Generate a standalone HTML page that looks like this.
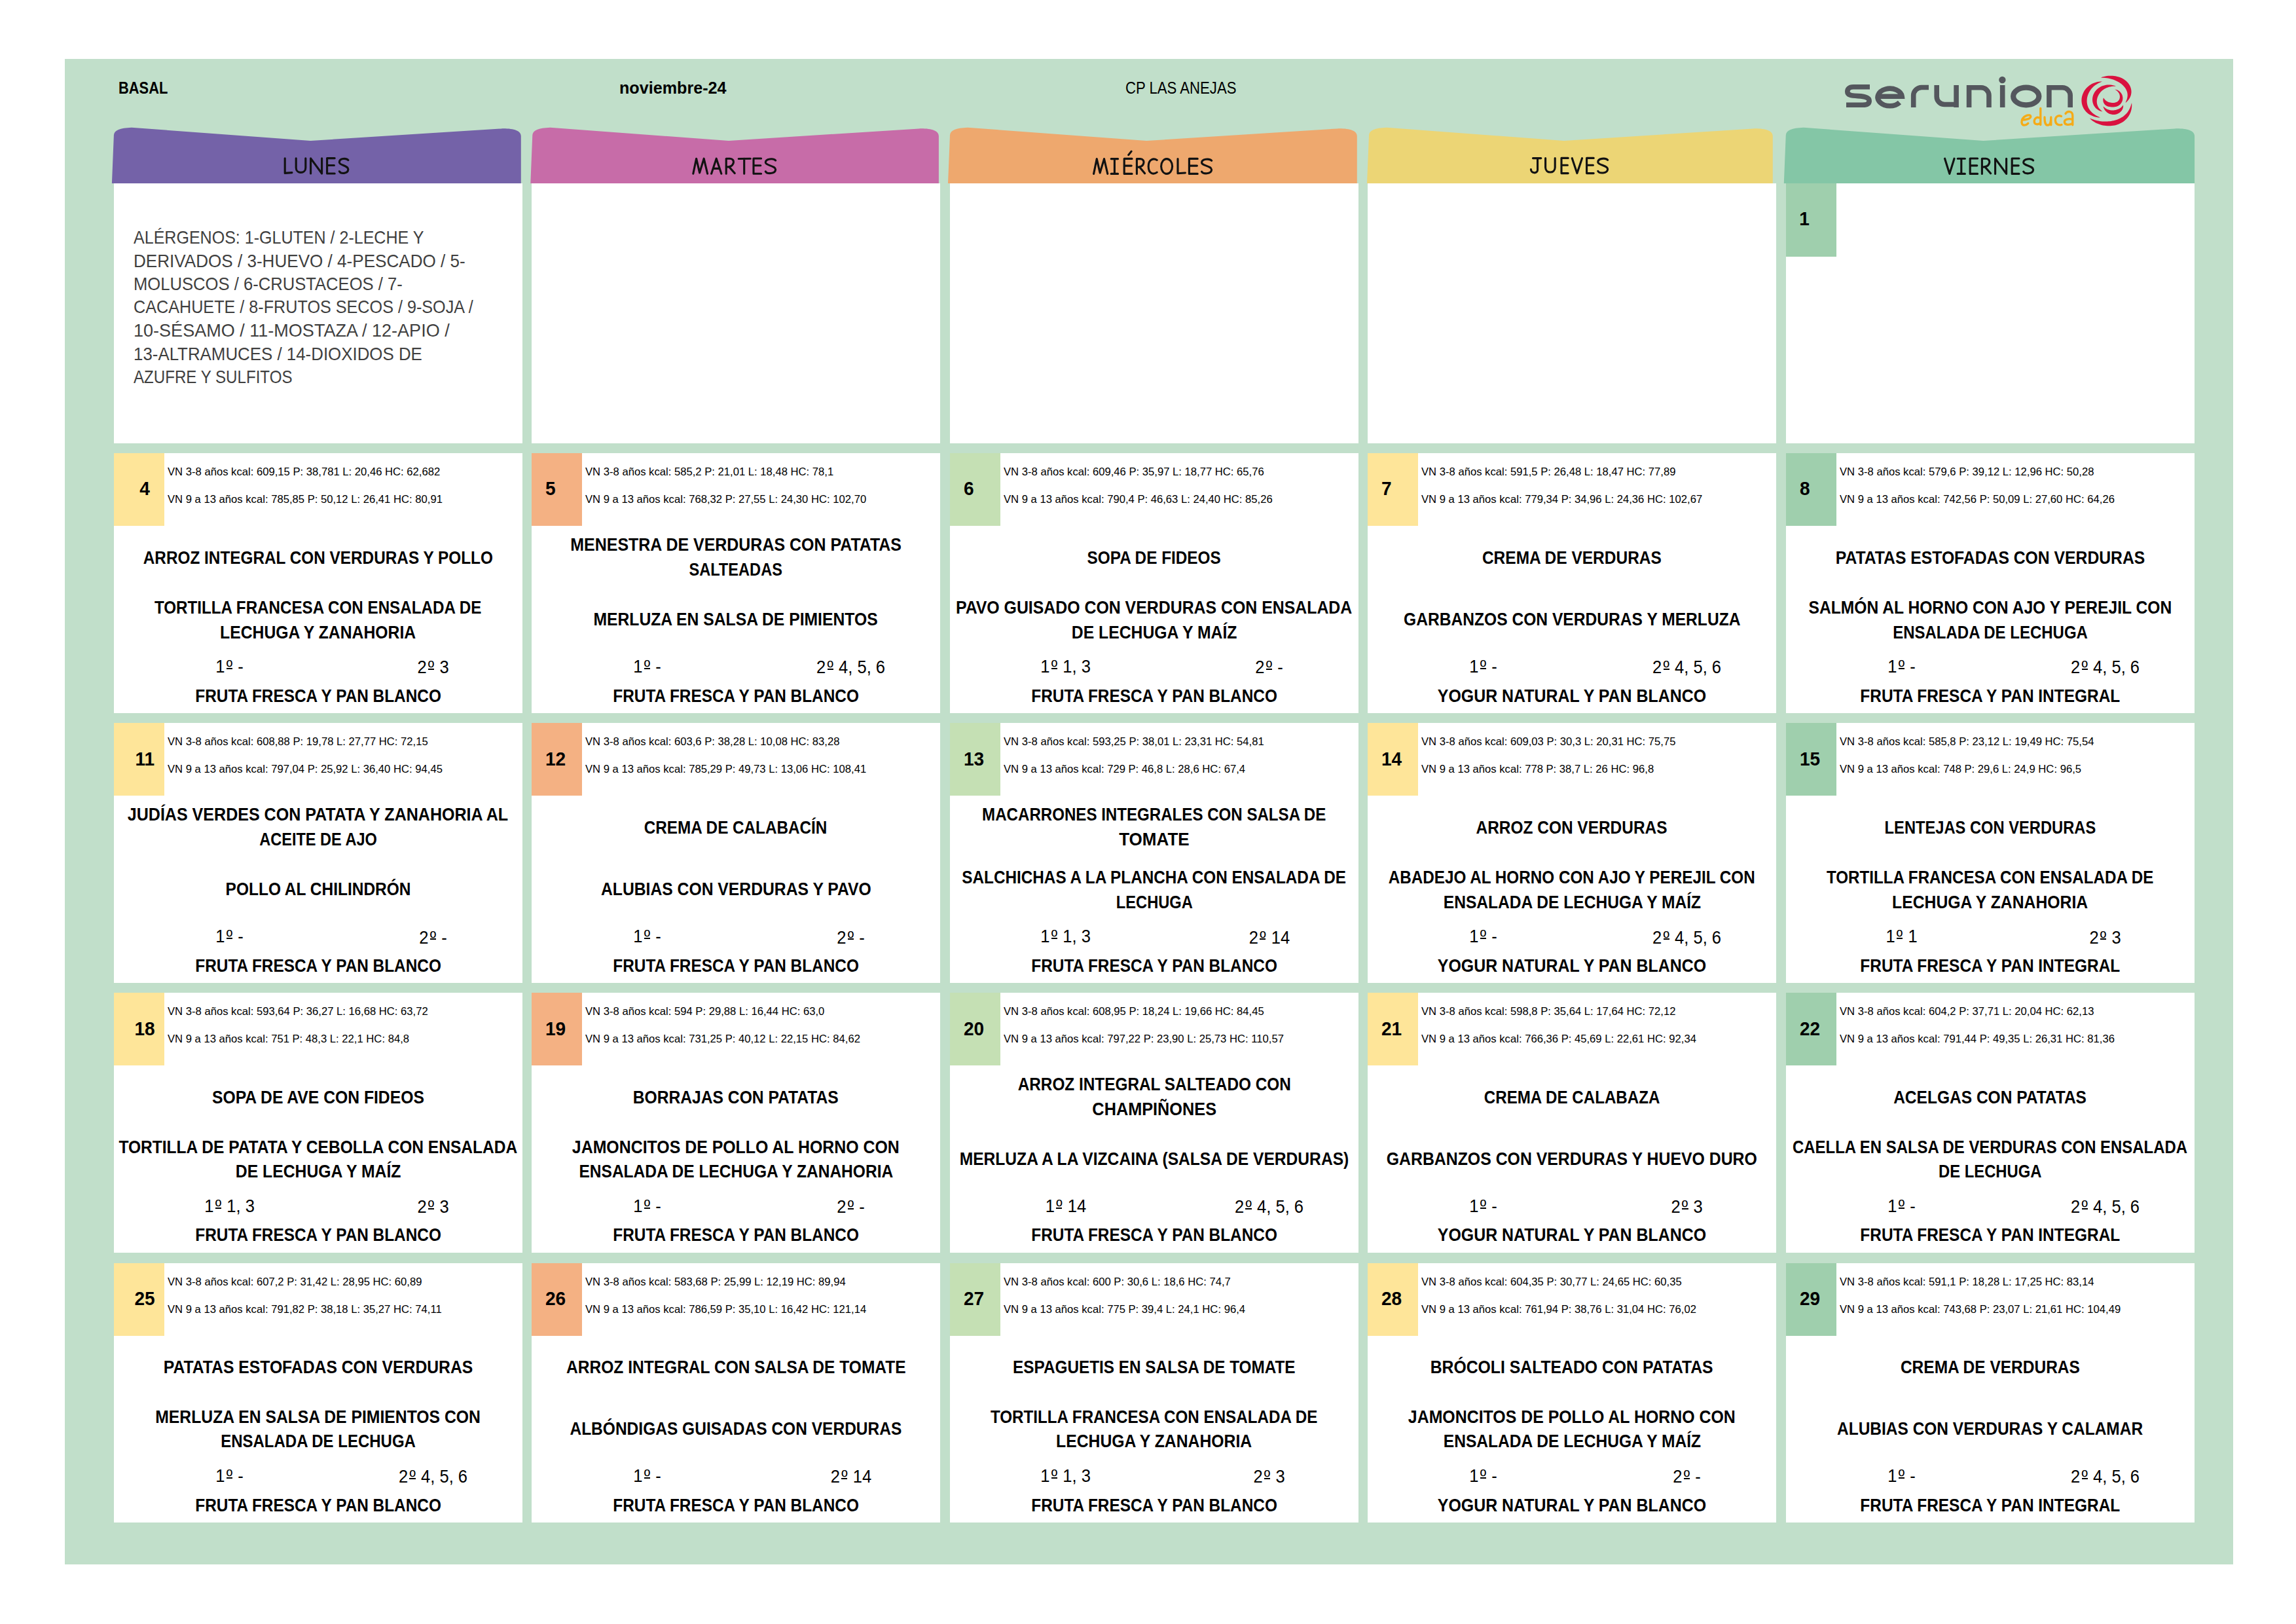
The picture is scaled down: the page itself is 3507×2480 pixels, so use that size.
<!DOCTYPE html><html><head><meta charset="utf-8"><style>
html,body{margin:0;padding:0;background:#fff;}
body{width:3507px;height:2480px;position:relative;overflow:hidden;font-family:"Liberation Sans",sans-serif;}
.t{position:absolute;white-space:nowrap;transform-origin:0 0;}
.c{text-align:center;transform-origin:50% 0;}
.r{position:absolute;}
</style></head><body>
<div class="r" style="left:99.00px;top:90.00px;width:3311.50px;height:2298.70px;background:#c1dfca;"></div>
<svg class="r" style="left:0;top:0" width="3507" height="300" viewBox="0 0 3507 300"><path d="M170.9,280 L173.9,206 C174.9,199 182.9,195.5 200.9,194.8 L474.34999999999997,215 L765.8,196.4 C783.8,196 795.8,199 795.8,208 L795.8,280 Z" fill="#7462a8"/><path d="M810.3,280 L813.3,206 C814.3,199 822.3,195.5 840.3,194.8 L1113.1,215 L1403.9,196.4 C1421.9,196 1433.9,199 1433.9,208 L1433.9,280 Z" fill="#c76ca8"/><path d="M1448.0,280 L1451.0,206 C1452.0,199 1460.0,195.5 1478.0,194.8 L1751.4,215 L2042.8000000000002,196.4 C2060.8,196 2072.8,199 2072.8,208 L2072.8,280 Z" fill="#eea86e"/><path d="M2088.0,280 L2091.0,206 C2092.0,199 2100.0,195.5 2118.0,194.8 L2388.9,215 L2677.8,196.4 C2695.8,196 2707.8,199 2707.8,208 L2707.8,280 Z" fill="#ecd575"/><path d="M2724.8,280 L2727.8,206 C2728.8,199 2736.8,195.5 2754.8,194.8 L3029.45,215 L3322.1,196.4 C3340.1,196 3352.1,199 3352.1,208 L3352.1,280 Z" fill="#84c6a6"/></svg>
<svg class="r" style="left:0;top:0" width="3507" height="300" viewBox="0 0 3507 300"><path d="M435.20,241.80 V264.40 L445.90,263.60 M452.20,241.80 V256.18 C452.20,265.80 466.80,265.80 466.80,256.18 V241.80 M474.60,265.00 V241.80 L491.60,265.00 V241.80 M511.20,241.60 H499.60 V265.00 H511.20 M499.60,252.47 H510.40 M531.80,244.58 C528.80,241.00 517.90,241.60 518.40,248.06 C518.90,252.70 532.30,252.70 531.80,258.97 C531.30,265.80 520.40,265.60 518.40,261.75 M1058.80,265.20 L1063.60,242.20 L1068.61,263.82 L1075.15,242.20 L1080.60,265.20 M1086.60,265.20 L1094.20,242.20 L1101.80,265.20 M1089.64,257.38 H1099.37 M1109.20,265.20 V242.20 H1115.05 C1123.00,242.20 1123.00,255.08 1109.20,255.08 M1113.49,254.62 L1122.20,264.60 M1128.20,242.50 L1146.20,242.20 M1136.70,242.20 V265.20 M1162.60,242.00 H1151.00 V265.20 H1162.60 M1151.00,252.78 H1161.80 M1184.60,244.96 C1181.60,241.40 1168.90,242.00 1169.40,248.41 C1169.90,253.01 1185.10,253.01 1184.60,259.22 C1184.10,266.00 1171.40,265.80 1169.40,261.98 M1670.60,265.40 L1675.26,242.60 L1680.14,264.03 L1686.50,242.60 L1691.80,265.40 M1697.20,242.60 H1707.60 M1702.40,242.60 V265.40 M1697.20,265.40 H1707.60 M1729.00,242.40 H1717.20 V265.40 H1729.00 M1717.20,253.09 H1728.20 M1723.69,236.60 L1728.06,231.10 M1736.40,265.40 V242.60 H1741.89 C1749.40,242.60 1749.40,255.37 1736.40,255.37 M1740.43,254.91 L1748.60,264.80 M1767.20,244.42 C1762.20,241.10 1754.20,243.10 1754.20,254.00 C1754.20,265.90 1762.20,266.90 1767.20,263.12 M1773.60,254.00 A8.50,11.40 0 1 0 1790.60,254.00 A8.50,11.40 0 1 0 1773.60,254.00 Z M1799.00,242.60 V264.80 L1810.40,264.00 M1829.20,242.40 H1816.40 V265.40 H1829.20 M1816.40,253.09 H1828.40 M1850.60,245.34 C1847.60,241.80 1835.10,242.40 1835.60,248.76 C1836.10,253.32 1851.10,253.32 1850.60,259.47 C1850.10,266.20 1837.60,266.00 1835.60,262.21 M2341.48,241.60 H2353.80 M2348.56,241.60 V259.54 C2348.56,265.40 2338.40,265.40 2338.40,258.62 M2360.60,241.60 V255.86 C2360.60,265.40 2375.20,265.40 2375.20,255.86 V241.60 M2395.20,241.40 H2385.00 V264.60 H2395.20 M2385.00,252.18 H2394.40 M2401.20,241.60 L2408.90,264.60 L2416.60,241.60 M2434.20,241.40 H2423.60 V264.60 H2434.20 M2423.60,252.18 H2433.40 M2455.60,244.36 C2452.60,240.80 2440.30,241.40 2440.80,247.81 C2441.30,252.41 2456.10,252.41 2455.60,258.62 C2455.10,265.40 2442.80,265.20 2440.80,261.38 M2970.60,242.20 L2977.80,265.40 L2985.00,242.20 M2990.20,242.20 H3001.40 M2995.80,242.20 V265.40 M2990.20,265.40 H3001.40 M3020.60,242.00 H3009.20 V265.40 H3020.60 M3009.20,252.87 H3019.80 M3027.40,265.40 V242.20 H3033.34 C3041.40,242.20 3041.40,255.19 3027.40,255.19 M3031.76,254.73 L3040.60,264.80 M3047.60,265.40 V242.20 L3064.60,265.40 V242.20 M3084.00,242.00 H3073.20 V265.40 H3084.00 M3073.20,252.87 H3083.20 M3105.60,244.98 C3102.60,241.40 3090.30,242.00 3090.80,248.46 C3091.30,253.10 3106.10,253.10 3105.60,259.37 C3105.10,266.20 3092.80,266.00 3090.80,262.15" fill="none" stroke="#121212" stroke-width="3.1" stroke-linecap="round" stroke-linejoin="round"/></svg>
<div class="t" style="left:180.80px;top:119.28px;font-size:26.02px;line-height:31px;font-weight:bold;color:#000;transform:scaleX(0.8402);">BASAL</div>
<div class="t" style="left:946.10px;top:119.08px;font-size:25.73px;line-height:31px;font-weight:bold;color:#000;transform:scaleX(0.9780);">noviembre-24</div>
<div class="t" style="left:1718.70px;top:119.08px;font-size:25.73px;line-height:31px;font-weight:normal;color:#000;transform:scaleX(0.8612);">CP LAS ANEJAS</div>
<div class="r" style="left:173.50px;top:280.00px;width:624.50px;height:396.70px;background:#fff;"></div>
<div class="r" style="left:811.80px;top:280.00px;width:624.30px;height:396.70px;background:#fff;"></div>
<div class="r" style="left:1450.60px;top:280.00px;width:624.50px;height:396.70px;background:#fff;"></div>
<div class="r" style="left:2088.90px;top:280.00px;width:624.30px;height:396.70px;background:#fff;"></div>
<div class="r" style="left:2727.70px;top:280.00px;width:624.50px;height:396.70px;background:#fff;"></div>
<div class="r" style="left:173.50px;top:691.50px;width:624.50px;height:397.20px;background:#fff;"></div>
<div class="r" style="left:811.80px;top:691.50px;width:624.30px;height:397.20px;background:#fff;"></div>
<div class="r" style="left:1450.60px;top:691.50px;width:624.50px;height:397.20px;background:#fff;"></div>
<div class="r" style="left:2088.90px;top:691.50px;width:624.30px;height:397.20px;background:#fff;"></div>
<div class="r" style="left:2727.70px;top:691.50px;width:624.50px;height:397.20px;background:#fff;"></div>
<div class="r" style="left:173.50px;top:1104.00px;width:624.50px;height:396.90px;background:#fff;"></div>
<div class="r" style="left:811.80px;top:1104.00px;width:624.30px;height:396.90px;background:#fff;"></div>
<div class="r" style="left:1450.60px;top:1104.00px;width:624.50px;height:396.90px;background:#fff;"></div>
<div class="r" style="left:2088.90px;top:1104.00px;width:624.30px;height:396.90px;background:#fff;"></div>
<div class="r" style="left:2727.70px;top:1104.00px;width:624.50px;height:396.90px;background:#fff;"></div>
<div class="r" style="left:173.50px;top:1516.20px;width:624.50px;height:397.00px;background:#fff;"></div>
<div class="r" style="left:811.80px;top:1516.20px;width:624.30px;height:397.00px;background:#fff;"></div>
<div class="r" style="left:1450.60px;top:1516.20px;width:624.50px;height:397.00px;background:#fff;"></div>
<div class="r" style="left:2088.90px;top:1516.20px;width:624.30px;height:397.00px;background:#fff;"></div>
<div class="r" style="left:2727.70px;top:1516.20px;width:624.50px;height:397.00px;background:#fff;"></div>
<div class="r" style="left:173.50px;top:1928.70px;width:624.50px;height:396.40px;background:#fff;"></div>
<div class="r" style="left:811.80px;top:1928.70px;width:624.30px;height:396.40px;background:#fff;"></div>
<div class="r" style="left:1450.60px;top:1928.70px;width:624.50px;height:396.40px;background:#fff;"></div>
<div class="r" style="left:2088.90px;top:1928.70px;width:624.30px;height:396.40px;background:#fff;"></div>
<div class="r" style="left:2727.70px;top:1928.70px;width:624.50px;height:396.40px;background:#fff;"></div>
<div class="t" style="left:203.90px;top:346.38px;font-size:27.76px;line-height:33px;font-weight:normal;color:#3f3f3f;transform:scaleX(0.9023);">ALÉRGENOS: 1-GLUTEN / 2-LECHE Y</div>
<div class="t" style="left:203.90px;top:381.58px;font-size:27.76px;line-height:33px;font-weight:normal;color:#3f3f3f;transform:scaleX(0.9399);">DERIVADOS / 3-HUEVO / 4-PESCADO / 5-</div>
<div class="t" style="left:203.90px;top:417.08px;font-size:27.76px;line-height:33px;font-weight:normal;color:#3f3f3f;transform:scaleX(0.9230);">MOLUSCOS / 6-CRUSTACEOS / 7-</div>
<div class="t" style="left:203.90px;top:452.28px;font-size:27.76px;line-height:33px;font-weight:normal;color:#3f3f3f;transform:scaleX(0.9075);">CACAHUETE / 8-FRUTOS SECOS / 9-SOJA /</div>
<div class="t" style="left:203.90px;top:488.18px;font-size:27.76px;line-height:33px;font-weight:normal;color:#3f3f3f;transform:scaleX(0.9741);">10-SÉSAMO / 11-MOSTAZA / 12-APIO /</div>
<div class="t" style="left:203.90px;top:523.68px;font-size:27.76px;line-height:33px;font-weight:normal;color:#3f3f3f;transform:scaleX(0.9322);">13-ALTRAMUCES / 14-DIOXIDOS DE</div>
<div class="t" style="left:203.90px;top:558.88px;font-size:27.76px;line-height:33px;font-weight:normal;color:#3f3f3f;transform:scaleX(0.8687);">AZUFRE Y SULFITOS</div>
<div class="r" style="left:2727.70px;top:280.00px;width:77.20px;height:111.50px;background:#9fcfad;"></div>
<div class="t c" style="left:2747.90px;top:317.37px;width:16.08px;font-size:28.92px;line-height:35px;font-weight:bold;color:#000;transform:scaleX(0.9700);">1</div>
<div class="r" style="left:173.50px;top:691.50px;width:77.20px;height:111.00px;background:#fee599;"></div>
<div class="t c" style="left:213.25px;top:729.07px;width:16.08px;font-size:28.92px;line-height:35px;font-weight:bold;color:#000;transform:scaleX(0.9700);">4</div>
<div class="t" style="left:255.60px;top:710.50px;font-size:16.72px;line-height:20px;font-weight:normal;color:#000;transform:scaleX(0.9960);">VN 3-8 años kcal: 609,15 P: 38,781 L: 20,46 HC: 62,682</div>
<div class="t" style="left:255.60px;top:752.50px;font-size:16.72px;line-height:20px;font-weight:normal;color:#000;transform:scaleX(0.9960);">VN 9 a 13 años kcal: 785,85 P: 50,12 L: 26,41 HC: 80,91</div>
<div class="t c" style="left:177.88px;top:834.87px;width:615.64px;font-size:28.05px;line-height:34px;font-weight:bold;color:#000;transform:scaleX(0.8676);">ARROZ INTEGRAL CON VERDURAS Y POLLO</div>
<div class="t c" style="left:196.11px;top:910.97px;width:579.23px;font-size:28.05px;line-height:34px;font-weight:bold;color:#000;transform:scaleX(0.8623);">TORTILLA FRANCESA CON ENSALADA DE</div>
<div class="t c" style="left:316.17px;top:948.57px;width:339.24px;font-size:28.05px;line-height:34px;font-weight:bold;color:#000;transform:scaleX(0.8816);">LECHUGA Y ZANAHORIA</div>
<div class="t c" style="left:328.02px;top:1002.23px;width:45.02px;font-size:27.03px;line-height:32px;color:#000;transform:scaleX(0.9450)">1<span style="margin-left:2.33px;margin-right:1.27px">º</span> -</div>
<div class="r" style="left:345.66px;top:1020.40px;width:9.45px;height:1.70px;background:#000;"></div>
<div class="t c" style="left:635.91px;top:1003.43px;width:51.05px;font-size:27.03px;line-height:32px;color:#000;transform:scaleX(0.9450)">2<span style="margin-left:2.33px;margin-right:1.27px">º</span> 3</div>
<div class="r" style="left:653.72px;top:1021.40px;width:9.45px;height:1.70px;background:#000;"></div>
<div class="t c" style="left:269.61px;top:1045.67px;width:432.22px;font-size:28.05px;line-height:34px;font-weight:bold;color:#000;transform:scaleX(0.8689);">FRUTA FRESCA Y PAN BLANCO</div>
<div class="r" style="left:811.80px;top:691.50px;width:77.20px;height:111.00px;background:#f4b183;"></div>
<div class="t" style="left:833.20px;top:729.07px;font-size:28.92px;line-height:35px;font-weight:bold;color:#000;transform:scaleX(0.9700);">5</div>
<div class="t" style="left:893.90px;top:710.50px;font-size:16.72px;line-height:20px;font-weight:normal;color:#000;transform:scaleX(0.9960);">VN 3-8 años kcal: 585,2 P: 21,01 L: 18,48 HC: 78,1</div>
<div class="t" style="left:893.90px;top:752.50px;font-size:16.72px;line-height:20px;font-weight:normal;color:#000;transform:scaleX(0.9960);">VN 9 a 13 años kcal: 768,32 P: 27,55 L: 24,30 HC: 102,70</div>
<div class="t c" style="left:839.78px;top:815.37px;width:568.34px;font-size:28.05px;line-height:34px;font-weight:bold;color:#000;transform:scaleX(0.8900);">MENESTRA DE VERDURAS CON PATATAS</div>
<div class="t c" style="left:1039.24px;top:853.37px;width:169.36px;font-size:28.05px;line-height:34px;font-weight:bold;color:#000;transform:scaleX(0.8422);">SALTEADAS</div>
<div class="t c" style="left:877.38px;top:929.37px;width:493.03px;font-size:28.05px;line-height:34px;font-weight:bold;color:#000;transform:scaleX(0.8809);">MERLUZA EN SALSA DE PIMIENTOS</div>
<div class="t c" style="left:966.32px;top:1002.23px;width:45.02px;font-size:27.03px;line-height:32px;color:#000;transform:scaleX(0.9450)">1<span style="margin-left:2.33px;margin-right:1.27px">º</span> -</div>
<div class="r" style="left:983.96px;top:1020.40px;width:9.45px;height:1.70px;background:#000;"></div>
<div class="t c" style="left:1244.20px;top:1003.43px;width:111.16px;font-size:27.03px;line-height:32px;color:#000;transform:scaleX(0.9450)">2<span style="margin-left:2.33px;margin-right:1.27px">º</span> 4, 5, 6</div>
<div class="r" style="left:1263.67px;top:1021.40px;width:9.45px;height:1.70px;background:#000;"></div>
<div class="t c" style="left:907.81px;top:1045.67px;width:432.22px;font-size:28.05px;line-height:34px;font-weight:bold;color:#000;transform:scaleX(0.8689);">FRUTA FRESCA Y PAN BLANCO</div>
<div class="r" style="left:1450.60px;top:691.50px;width:77.20px;height:111.00px;background:#c5e0b4;"></div>
<div class="t" style="left:1472.00px;top:729.07px;font-size:28.92px;line-height:35px;font-weight:bold;color:#000;transform:scaleX(0.9700);">6</div>
<div class="t" style="left:1532.70px;top:710.50px;font-size:16.72px;line-height:20px;font-weight:normal;color:#000;transform:scaleX(0.9960);">VN 3-8 años kcal: 609,46 P: 35,97 L: 18,77 HC: 65,76</div>
<div class="t" style="left:1532.70px;top:752.50px;font-size:16.72px;line-height:20px;font-weight:normal;color:#000;transform:scaleX(0.9960);">VN 9 a 13 años kcal: 790,4 P: 46,63 L: 24,40 HC: 85,26</div>
<div class="t c" style="left:1645.17px;top:834.87px;width:235.37px;font-size:28.05px;line-height:34px;font-weight:bold;color:#000;transform:scaleX(0.8676);">SOPA DE FIDEOS</div>
<div class="t c" style="left:1421.31px;top:910.97px;width:683.18px;font-size:28.05px;line-height:34px;font-weight:bold;color:#000;transform:scaleX(0.8863);">PAVO GUISADO CON VERDURAS CON ENSALADA</div>
<div class="t c" style="left:1619.78px;top:948.57px;width:286.26px;font-size:28.05px;line-height:34px;font-weight:bold;color:#000;transform:scaleX(0.8828);">DE LECHUGA Y MAÍZ</div>
<div class="t c" style="left:1587.01px;top:1002.23px;width:81.11px;font-size:27.03px;line-height:32px;color:#000;transform:scaleX(0.9450)">1<span style="margin-left:2.33px;margin-right:1.27px">º</span> 1, 3</div>
<div class="r" style="left:1605.65px;top:1020.40px;width:9.45px;height:1.70px;background:#000;"></div>
<div class="t c" style="left:1916.12px;top:1003.43px;width:45.02px;font-size:27.03px;line-height:32px;color:#000;transform:scaleX(0.9450)">2<span style="margin-left:2.33px;margin-right:1.27px">º</span> -</div>
<div class="r" style="left:1933.76px;top:1021.40px;width:9.45px;height:1.70px;background:#000;"></div>
<div class="t c" style="left:1546.71px;top:1045.67px;width:432.22px;font-size:28.05px;line-height:34px;font-weight:bold;color:#000;transform:scaleX(0.8689);">FRUTA FRESCA Y PAN BLANCO</div>
<div class="r" style="left:2088.90px;top:691.50px;width:77.20px;height:111.00px;background:#fee599;"></div>
<div class="t" style="left:2110.30px;top:729.07px;font-size:28.92px;line-height:35px;font-weight:bold;color:#000;transform:scaleX(0.9700);">7</div>
<div class="t" style="left:2171.00px;top:710.50px;font-size:16.72px;line-height:20px;font-weight:normal;color:#000;transform:scaleX(0.9960);">VN 3-8 años kcal: 591,5 P: 26,48 L: 18,47 HC: 77,89</div>
<div class="t" style="left:2171.00px;top:752.50px;font-size:16.72px;line-height:20px;font-weight:normal;color:#000;transform:scaleX(0.9960);">VN 9 a 13 años kcal: 779,34 P: 34,96 L: 24,36 HC: 102,67</div>
<div class="t c" style="left:2244.10px;top:834.87px;width:313.80px;font-size:28.05px;line-height:34px;font-weight:bold;color:#000;transform:scaleX(0.8732);">CREMA DE VERDURAS</div>
<div class="t c" style="left:2107.77px;top:929.37px;width:586.54px;font-size:28.05px;line-height:34px;font-weight:bold;color:#000;transform:scaleX(0.8771);">GARBANZOS CON VERDURAS Y MERLUZA</div>
<div class="t c" style="left:2243.42px;top:1002.23px;width:45.02px;font-size:27.03px;line-height:32px;color:#000;transform:scaleX(0.9450)">1<span style="margin-left:2.33px;margin-right:1.27px">º</span> -</div>
<div class="r" style="left:2261.06px;top:1020.40px;width:9.45px;height:1.70px;background:#000;"></div>
<div class="t c" style="left:2521.30px;top:1003.43px;width:111.16px;font-size:27.03px;line-height:32px;color:#000;transform:scaleX(0.9450)">2<span style="margin-left:2.33px;margin-right:1.27px">º</span> 4, 5, 6</div>
<div class="r" style="left:2540.77px;top:1021.40px;width:9.45px;height:1.70px;background:#000;"></div>
<div class="t c" style="left:2170.17px;top:1045.67px;width:461.85px;font-size:28.05px;line-height:34px;font-weight:bold;color:#000;transform:scaleX(0.8884);">YOGUR NATURAL Y PAN BLANCO</div>
<div class="r" style="left:2727.70px;top:691.50px;width:77.20px;height:111.00px;background:#9fcfad;"></div>
<div class="t" style="left:2749.10px;top:729.07px;font-size:28.92px;line-height:35px;font-weight:bold;color:#000;transform:scaleX(0.9700);">8</div>
<div class="t" style="left:2809.80px;top:710.50px;font-size:16.72px;line-height:20px;font-weight:normal;color:#000;transform:scaleX(0.9960);">VN 3-8 años kcal: 579,6 P: 39,12 L: 12,96 HC: 50,28</div>
<div class="t" style="left:2809.80px;top:752.50px;font-size:16.72px;line-height:20px;font-weight:normal;color:#000;transform:scaleX(0.9960);">VN 9 a 13 años kcal: 742,56 P: 50,09 L: 27,60 HC: 64,26</div>
<div class="t c" style="left:2771.91px;top:834.87px;width:536.15px;font-size:28.05px;line-height:34px;font-weight:bold;color:#000;transform:scaleX(0.8814);">PATATAS ESTOFADAS CON VERDURAS</div>
<div class="t c" style="left:2724.08px;top:910.97px;width:631.79px;font-size:28.05px;line-height:34px;font-weight:bold;color:#000;transform:scaleX(0.8782);">SALMÓN AL HORNO CON AJO Y PEREJIL CON</div>
<div class="t c" style="left:2865.89px;top:948.57px;width:348.07px;font-size:28.05px;line-height:34px;font-weight:bold;color:#000;transform:scaleX(0.8554);">ENSALADA DE LECHUGA</div>
<div class="t c" style="left:2882.22px;top:1002.23px;width:45.02px;font-size:27.03px;line-height:32px;color:#000;transform:scaleX(0.9450)">1<span style="margin-left:2.33px;margin-right:1.27px">º</span> -</div>
<div class="r" style="left:2899.86px;top:1020.40px;width:9.45px;height:1.70px;background:#000;"></div>
<div class="t c" style="left:3160.10px;top:1003.43px;width:111.16px;font-size:27.03px;line-height:32px;color:#000;transform:scaleX(0.9450)">2<span style="margin-left:2.33px;margin-right:1.27px">º</span> 4, 5, 6</div>
<div class="r" style="left:3179.57px;top:1021.40px;width:9.45px;height:1.70px;background:#000;"></div>
<div class="t c" style="left:2812.16px;top:1045.67px;width:455.60px;font-size:28.05px;line-height:34px;font-weight:bold;color:#000;transform:scaleX(0.8712);">FRUTA FRESCA Y PAN INTEGRAL</div>
<div class="r" style="left:173.50px;top:1104.00px;width:77.20px;height:111.00px;background:#fee599;"></div>
<div class="t c" style="left:206.02px;top:1141.57px;width:30.57px;font-size:28.92px;line-height:35px;font-weight:bold;color:#000;transform:scaleX(0.9700);">11</div>
<div class="t" style="left:255.60px;top:1123.00px;font-size:16.72px;line-height:20px;font-weight:normal;color:#000;transform:scaleX(0.9960);">VN 3-8 años kcal: 608,88 P: 19,78 L: 27,77 HC: 72,15</div>
<div class="t" style="left:255.60px;top:1165.00px;font-size:16.72px;line-height:20px;font-weight:normal;color:#000;transform:scaleX(0.9960);">VN 9 a 13 años kcal: 797,04 P: 25,92 L: 36,40 HC: 94,45</div>
<div class="t c" style="left:160.21px;top:1227.47px;width:650.96px;font-size:28.05px;line-height:34px;font-weight:bold;color:#000;transform:scaleX(0.8933);">JUDÍAS VERDES CON PATATA Y ZANAHORIA AL</div>
<div class="t c" style="left:378.73px;top:1265.47px;width:214.07px;font-size:28.05px;line-height:34px;font-weight:bold;color:#000;transform:scaleX(0.8396);">ACEITE DE AJO</div>
<div class="t c" style="left:323.62px;top:1341.47px;width:324.14px;font-size:28.05px;line-height:34px;font-weight:bold;color:#000;transform:scaleX(0.8730);">POLLO AL CHILINDRÓN</div>
<div class="t c" style="left:328.02px;top:1414.33px;width:45.02px;font-size:27.03px;line-height:32px;color:#000;transform:scaleX(0.9450)">1<span style="margin-left:2.33px;margin-right:1.27px">º</span> -</div>
<div class="r" style="left:345.66px;top:1432.40px;width:9.45px;height:1.70px;background:#000;"></div>
<div class="t c" style="left:639.02px;top:1415.53px;width:45.02px;font-size:27.03px;line-height:32px;color:#000;transform:scaleX(0.9450)">2<span style="margin-left:2.33px;margin-right:1.27px">º</span> -</div>
<div class="r" style="left:656.66px;top:1433.40px;width:9.45px;height:1.70px;background:#000;"></div>
<div class="t c" style="left:269.61px;top:1457.77px;width:432.22px;font-size:28.05px;line-height:34px;font-weight:bold;color:#000;transform:scaleX(0.8689);">FRUTA FRESCA Y PAN BLANCO</div>
<div class="r" style="left:811.80px;top:1104.00px;width:77.20px;height:111.00px;background:#f4b183;"></div>
<div class="t" style="left:833.20px;top:1141.57px;font-size:28.92px;line-height:35px;font-weight:bold;color:#000;transform:scaleX(0.9700);">12</div>
<div class="t" style="left:893.90px;top:1123.00px;font-size:16.72px;line-height:20px;font-weight:normal;color:#000;transform:scaleX(0.9960);">VN 3-8 años kcal: 603,6 P: 38,28 L: 10,08 HC: 83,28</div>
<div class="t" style="left:893.90px;top:1165.00px;font-size:16.72px;line-height:20px;font-weight:normal;color:#000;transform:scaleX(0.9960);">VN 9 a 13 años kcal: 785,29 P: 49,73 L: 13,06 HC: 108,41</div>
<div class="t c" style="left:962.37px;top:1246.97px;width:323.11px;font-size:28.05px;line-height:34px;font-weight:bold;color:#000;transform:scaleX(0.8652);">CREMA DE CALABACÍN</div>
<div class="t c" style="left:889.58px;top:1341.47px;width:468.65px;font-size:28.05px;line-height:34px;font-weight:bold;color:#000;transform:scaleX(0.8808);">ALUBIAS CON VERDURAS Y PAVO</div>
<div class="t c" style="left:966.32px;top:1414.33px;width:45.02px;font-size:27.03px;line-height:32px;color:#000;transform:scaleX(0.9450)">1<span style="margin-left:2.33px;margin-right:1.27px">º</span> -</div>
<div class="r" style="left:983.96px;top:1432.40px;width:9.45px;height:1.70px;background:#000;"></div>
<div class="t c" style="left:1277.32px;top:1415.53px;width:45.02px;font-size:27.03px;line-height:32px;color:#000;transform:scaleX(0.9450)">2<span style="margin-left:2.33px;margin-right:1.27px">º</span> -</div>
<div class="r" style="left:1294.96px;top:1433.40px;width:9.45px;height:1.70px;background:#000;"></div>
<div class="t c" style="left:907.81px;top:1457.77px;width:432.22px;font-size:28.05px;line-height:34px;font-weight:bold;color:#000;transform:scaleX(0.8689);">FRUTA FRESCA Y PAN BLANCO</div>
<div class="r" style="left:1450.60px;top:1104.00px;width:77.20px;height:111.00px;background:#c5e0b4;"></div>
<div class="t" style="left:1472.00px;top:1141.57px;font-size:28.92px;line-height:35px;font-weight:bold;color:#000;transform:scaleX(0.9700);">13</div>
<div class="t" style="left:1532.70px;top:1123.00px;font-size:16.72px;line-height:20px;font-weight:normal;color:#000;transform:scaleX(0.9960);">VN 3-8 años kcal: 593,25 P: 38,01 L: 23,31 HC: 54,81</div>
<div class="t" style="left:1532.70px;top:1165.00px;font-size:16.72px;line-height:20px;font-weight:normal;color:#000;transform:scaleX(0.9960);">VN 9 a 13 años kcal: 729 P: 46,8 L: 28,6 HC: 67,4</div>
<div class="t c" style="left:1457.08px;top:1227.47px;width:611.47px;font-size:28.05px;line-height:34px;font-weight:bold;color:#000;transform:scaleX(0.8591);">MACARRONES INTEGRALES CON SALSA DE</div>
<div class="t c" style="left:1704.92px;top:1265.47px;width:115.83px;font-size:28.05px;line-height:34px;font-weight:bold;color:#000;transform:scaleX(0.9279);">TOMATE</div>
<div class="t c" style="left:1424.12px;top:1323.07px;width:677.42px;font-size:28.05px;line-height:34px;font-weight:bold;color:#000;transform:scaleX(0.8663);">SALCHICHAS A LA PLANCHA CON ENSALADA DE</div>
<div class="t c" style="left:1693.55px;top:1360.67px;width:138.70px;font-size:28.05px;line-height:34px;font-weight:bold;color:#000;transform:scaleX(0.8443);">LECHUGA</div>
<div class="t c" style="left:1587.01px;top:1414.33px;width:81.11px;font-size:27.03px;line-height:32px;color:#000;transform:scaleX(0.9450)">1<span style="margin-left:2.33px;margin-right:1.27px">º</span> 1, 3</div>
<div class="r" style="left:1605.65px;top:1432.40px;width:9.45px;height:1.70px;background:#000;"></div>
<div class="t c" style="left:1905.57px;top:1415.53px;width:66.09px;font-size:27.03px;line-height:32px;color:#000;transform:scaleX(0.9450)">2<span style="margin-left:2.33px;margin-right:1.27px">º</span> 14</div>
<div class="r" style="left:1923.80px;top:1433.40px;width:9.45px;height:1.70px;background:#000;"></div>
<div class="t c" style="left:1546.71px;top:1457.77px;width:432.22px;font-size:28.05px;line-height:34px;font-weight:bold;color:#000;transform:scaleX(0.8689);">FRUTA FRESCA Y PAN BLANCO</div>
<div class="r" style="left:2088.90px;top:1104.00px;width:77.20px;height:111.00px;background:#fee599;"></div>
<div class="t" style="left:2110.30px;top:1141.57px;font-size:28.92px;line-height:35px;font-weight:bold;color:#000;transform:scaleX(0.9700);">14</div>
<div class="t" style="left:2171.00px;top:1123.00px;font-size:16.72px;line-height:20px;font-weight:normal;color:#000;transform:scaleX(0.9960);">VN 3-8 años kcal: 609,03 P: 30,3 L: 20,31 HC: 75,75</div>
<div class="t" style="left:2171.00px;top:1165.00px;font-size:16.72px;line-height:20px;font-weight:normal;color:#000;transform:scaleX(0.9960);">VN 9 a 13 años kcal: 778 P: 38,7 L: 26 HC: 96,8</div>
<div class="t c" style="left:2233.45px;top:1246.97px;width:335.09px;font-size:28.05px;line-height:34px;font-weight:bold;color:#000;transform:scaleX(0.8714);">ARROZ CON VERDURAS</div>
<div class="t c" style="left:2077.33px;top:1323.07px;width:647.40px;font-size:28.05px;line-height:34px;font-weight:bold;color:#000;transform:scaleX(0.8652);">ABADEJO AL HORNO CON AJO Y PEREJIL CON</div>
<div class="t c" style="left:2176.63px;top:1360.67px;width:448.87px;font-size:28.05px;line-height:34px;font-weight:bold;color:#000;transform:scaleX(0.8765);">ENSALADA DE LECHUGA Y MAÍZ</div>
<div class="t c" style="left:2243.42px;top:1414.33px;width:45.02px;font-size:27.03px;line-height:32px;color:#000;transform:scaleX(0.9450)">1<span style="margin-left:2.33px;margin-right:1.27px">º</span> -</div>
<div class="r" style="left:2261.06px;top:1432.40px;width:9.45px;height:1.70px;background:#000;"></div>
<div class="t c" style="left:2521.30px;top:1415.53px;width:111.16px;font-size:27.03px;line-height:32px;color:#000;transform:scaleX(0.9450)">2<span style="margin-left:2.33px;margin-right:1.27px">º</span> 4, 5, 6</div>
<div class="r" style="left:2540.77px;top:1433.40px;width:9.45px;height:1.70px;background:#000;"></div>
<div class="t c" style="left:2170.17px;top:1457.77px;width:461.85px;font-size:28.05px;line-height:34px;font-weight:bold;color:#000;transform:scaleX(0.8884);">YOGUR NATURAL Y PAN BLANCO</div>
<div class="r" style="left:2727.70px;top:1104.00px;width:77.20px;height:111.00px;background:#9fcfad;"></div>
<div class="t" style="left:2749.10px;top:1141.57px;font-size:28.92px;line-height:35px;font-weight:bold;color:#000;transform:scaleX(0.9700);">15</div>
<div class="t" style="left:2809.80px;top:1123.00px;font-size:16.72px;line-height:20px;font-weight:normal;color:#000;transform:scaleX(0.9960);">VN 3-8 años kcal: 585,8 P: 23,12 L: 19,49 HC: 75,54</div>
<div class="t" style="left:2809.80px;top:1165.00px;font-size:16.72px;line-height:20px;font-weight:normal;color:#000;transform:scaleX(0.9960);">VN 9 a 13 años kcal: 748 P: 29,6 L: 24,9 HC: 96,5</div>
<div class="t c" style="left:2849.05px;top:1246.97px;width:381.88px;font-size:28.05px;line-height:34px;font-weight:bold;color:#000;transform:scaleX(0.8450);">LENTEJAS CON VERDURAS</div>
<div class="t c" style="left:2750.31px;top:1323.07px;width:579.23px;font-size:28.05px;line-height:34px;font-weight:bold;color:#000;transform:scaleX(0.8623);">TORTILLA FRANCESA CON ENSALADA DE</div>
<div class="t c" style="left:2870.37px;top:1360.67px;width:339.24px;font-size:28.05px;line-height:34px;font-weight:bold;color:#000;transform:scaleX(0.8816);">LECHUGA Y ZANAHORIA</div>
<div class="t c" style="left:2879.11px;top:1414.33px;width:51.05px;font-size:27.03px;line-height:32px;color:#000;transform:scaleX(0.9450)">1<span style="margin-left:2.33px;margin-right:1.27px">º</span> 1</div>
<div class="r" style="left:2896.92px;top:1432.40px;width:9.45px;height:1.70px;background:#000;"></div>
<div class="t c" style="left:3190.11px;top:1415.53px;width:51.05px;font-size:27.03px;line-height:32px;color:#000;transform:scaleX(0.9450)">2<span style="margin-left:2.33px;margin-right:1.27px">º</span> 3</div>
<div class="r" style="left:3207.92px;top:1433.40px;width:9.45px;height:1.70px;background:#000;"></div>
<div class="t c" style="left:2812.16px;top:1457.77px;width:455.60px;font-size:28.05px;line-height:34px;font-weight:bold;color:#000;transform:scaleX(0.8712);">FRUTA FRESCA Y PAN INTEGRAL</div>
<div class="r" style="left:173.50px;top:1516.20px;width:77.20px;height:111.00px;background:#fee599;"></div>
<div class="t c" style="left:205.30px;top:1553.77px;width:32.17px;font-size:28.92px;line-height:35px;font-weight:bold;color:#000;transform:scaleX(0.9700);">18</div>
<div class="t" style="left:255.60px;top:1535.20px;font-size:16.72px;line-height:20px;font-weight:normal;color:#000;transform:scaleX(0.9960);">VN 3-8 años kcal: 593,64 P: 36,27 L: 16,68 HC: 63,72</div>
<div class="t" style="left:255.60px;top:1577.20px;font-size:16.72px;line-height:20px;font-weight:normal;color:#000;transform:scaleX(0.9960);">VN 9 a 13 años kcal: 751 P: 48,3 L: 22,1 HC: 84,8</div>
<div class="t c" style="left:301.86px;top:1658.57px;width:367.85px;font-size:28.05px;line-height:34px;font-weight:bold;color:#000;transform:scaleX(0.8807);">SOPA DE AVE CON FIDEOS</div>
<div class="t c" style="left:137.91px;top:1734.67px;width:695.58px;font-size:28.05px;line-height:34px;font-weight:bold;color:#000;transform:scaleX(0.8754);">TORTILLA DE PATATA Y CEBOLLA CON ENSALADA</div>
<div class="t c" style="left:342.68px;top:1772.27px;width:286.26px;font-size:28.05px;line-height:34px;font-weight:bold;color:#000;transform:scaleX(0.8828);">DE LECHUGA Y MAÍZ</div>
<div class="t c" style="left:309.91px;top:1825.93px;width:81.11px;font-size:27.03px;line-height:32px;color:#000;transform:scaleX(0.9450)">1<span style="margin-left:2.33px;margin-right:1.27px">º</span> 1, 3</div>
<div class="r" style="left:328.55px;top:1844.40px;width:9.45px;height:1.70px;background:#000;"></div>
<div class="t c" style="left:635.91px;top:1827.13px;width:51.05px;font-size:27.03px;line-height:32px;color:#000;transform:scaleX(0.9450)">2<span style="margin-left:2.33px;margin-right:1.27px">º</span> 3</div>
<div class="r" style="left:653.72px;top:1845.40px;width:9.45px;height:1.70px;background:#000;"></div>
<div class="t c" style="left:269.61px;top:1869.37px;width:432.22px;font-size:28.05px;line-height:34px;font-weight:bold;color:#000;transform:scaleX(0.8689);">FRUTA FRESCA Y PAN BLANCO</div>
<div class="r" style="left:811.80px;top:1516.20px;width:77.20px;height:111.00px;background:#f4b183;"></div>
<div class="t" style="left:833.20px;top:1553.77px;font-size:28.92px;line-height:35px;font-weight:bold;color:#000;transform:scaleX(0.9700);">19</div>
<div class="t" style="left:893.90px;top:1535.20px;font-size:16.72px;line-height:20px;font-weight:normal;color:#000;transform:scaleX(0.9960);">VN 3-8 años kcal: 594 P: 29,88 L: 16,44 HC: 63,0</div>
<div class="t" style="left:893.90px;top:1577.20px;font-size:16.72px;line-height:20px;font-weight:normal;color:#000;transform:scaleX(0.9960);">VN 9 a 13 años kcal: 731,25 P: 40,12 L: 22,15 HC: 84,62</div>
<div class="t c" style="left:945.26px;top:1658.57px;width:357.41px;font-size:28.05px;line-height:34px;font-weight:bold;color:#000;transform:scaleX(0.8789);">BORRAJAS CON PATATAS</div>
<div class="t c" style="left:842.16px;top:1734.67px;width:563.67px;font-size:28.05px;line-height:34px;font-weight:bold;color:#000;transform:scaleX(0.8872);">JAMONCITOS DE POLLO AL HORNO CON</div>
<div class="t c" style="left:849.60px;top:1772.27px;width:548.62px;font-size:28.05px;line-height:34px;font-weight:bold;color:#000;transform:scaleX(0.8746);">ENSALADA DE LECHUGA Y ZANAHORIA</div>
<div class="t c" style="left:966.32px;top:1825.93px;width:45.02px;font-size:27.03px;line-height:32px;color:#000;transform:scaleX(0.9450)">1<span style="margin-left:2.33px;margin-right:1.27px">º</span> -</div>
<div class="r" style="left:983.96px;top:1844.40px;width:9.45px;height:1.70px;background:#000;"></div>
<div class="t c" style="left:1277.32px;top:1827.13px;width:45.02px;font-size:27.03px;line-height:32px;color:#000;transform:scaleX(0.9450)">2<span style="margin-left:2.33px;margin-right:1.27px">º</span> -</div>
<div class="r" style="left:1294.96px;top:1845.40px;width:9.45px;height:1.70px;background:#000;"></div>
<div class="t c" style="left:907.81px;top:1869.37px;width:432.22px;font-size:28.05px;line-height:34px;font-weight:bold;color:#000;transform:scaleX(0.8689);">FRUTA FRESCA Y PAN BLANCO</div>
<div class="r" style="left:1450.60px;top:1516.20px;width:77.20px;height:111.00px;background:#c5e0b4;"></div>
<div class="t" style="left:1472.00px;top:1553.77px;font-size:28.92px;line-height:35px;font-weight:bold;color:#000;transform:scaleX(0.9700);">20</div>
<div class="t" style="left:1532.70px;top:1535.20px;font-size:16.72px;line-height:20px;font-weight:normal;color:#000;transform:scaleX(0.9960);">VN 3-8 años kcal: 608,95 P: 18,24 L: 19,66 HC: 84,45</div>
<div class="t" style="left:1532.70px;top:1577.20px;font-size:16.72px;line-height:20px;font-weight:normal;color:#000;transform:scaleX(0.9960);">VN 9 a 13 años kcal: 797,22 P: 23,90 L: 25,73 HC: 110,57</div>
<div class="t c" style="left:1522.58px;top:1639.07px;width:480.51px;font-size:28.05px;line-height:34px;font-weight:bold;color:#000;transform:scaleX(0.8684);">ARROZ INTEGRAL SALTEADO CON</div>
<div class="t c" style="left:1657.65px;top:1677.07px;width:210.41px;font-size:28.05px;line-height:34px;font-weight:bold;color:#000;transform:scaleX(0.9016);">CHAMPIÑONES</div>
<div class="t c" style="left:1423.84px;top:1753.07px;width:677.93px;font-size:28.05px;line-height:34px;font-weight:bold;color:#000;transform:scaleX(0.8773);">MERLUZA A LA VIZCAINA (SALSA DE VERDURAS)</div>
<div class="t c" style="left:1594.57px;top:1825.93px;width:66.09px;font-size:27.03px;line-height:32px;color:#000;transform:scaleX(0.9450)">1<span style="margin-left:2.33px;margin-right:1.27px">º</span> 14</div>
<div class="r" style="left:1612.80px;top:1844.40px;width:9.45px;height:1.70px;background:#000;"></div>
<div class="t c" style="left:1883.00px;top:1827.13px;width:111.16px;font-size:27.03px;line-height:32px;color:#000;transform:scaleX(0.9450)">2<span style="margin-left:2.33px;margin-right:1.27px">º</span> 4, 5, 6</div>
<div class="r" style="left:1902.47px;top:1845.40px;width:9.45px;height:1.70px;background:#000;"></div>
<div class="t c" style="left:1546.71px;top:1869.37px;width:432.22px;font-size:28.05px;line-height:34px;font-weight:bold;color:#000;transform:scaleX(0.8689);">FRUTA FRESCA Y PAN BLANCO</div>
<div class="r" style="left:2088.90px;top:1516.20px;width:77.20px;height:111.00px;background:#fee599;"></div>
<div class="t" style="left:2110.30px;top:1553.77px;font-size:28.92px;line-height:35px;font-weight:bold;color:#000;transform:scaleX(0.9700);">21</div>
<div class="t" style="left:2171.00px;top:1535.20px;font-size:16.72px;line-height:20px;font-weight:normal;color:#000;transform:scaleX(0.9960);">VN 3-8 años kcal: 598,8 P: 35,64 L: 17,64 HC: 72,12</div>
<div class="t" style="left:2171.00px;top:1577.20px;font-size:16.72px;line-height:20px;font-weight:normal;color:#000;transform:scaleX(0.9960);">VN 9 a 13 años kcal: 766,36 P: 45,69 L: 22,61 HC: 92,34</div>
<div class="t c" style="left:2244.94px;top:1658.57px;width:312.20px;font-size:28.05px;line-height:34px;font-weight:bold;color:#000;transform:scaleX(0.8606);">CREMA DE CALABAZA</div>
<div class="t c" style="left:2081.25px;top:1753.07px;width:639.57px;font-size:28.05px;line-height:34px;font-weight:bold;color:#000;transform:scaleX(0.8853);">GARBANZOS CON VERDURAS Y HUEVO DURO</div>
<div class="t c" style="left:2243.42px;top:1825.93px;width:45.02px;font-size:27.03px;line-height:32px;color:#000;transform:scaleX(0.9450)">1<span style="margin-left:2.33px;margin-right:1.27px">º</span> -</div>
<div class="r" style="left:2261.06px;top:1844.40px;width:9.45px;height:1.70px;background:#000;"></div>
<div class="t c" style="left:2551.31px;top:1827.13px;width:51.05px;font-size:27.03px;line-height:32px;color:#000;transform:scaleX(0.9450)">2<span style="margin-left:2.33px;margin-right:1.27px">º</span> 3</div>
<div class="r" style="left:2569.12px;top:1845.40px;width:9.45px;height:1.70px;background:#000;"></div>
<div class="t c" style="left:2170.17px;top:1869.37px;width:461.85px;font-size:28.05px;line-height:34px;font-weight:bold;color:#000;transform:scaleX(0.8884);">YOGUR NATURAL Y PAN BLANCO</div>
<div class="r" style="left:2727.70px;top:1516.20px;width:77.20px;height:111.00px;background:#9fcfad;"></div>
<div class="t" style="left:2749.10px;top:1553.77px;font-size:28.92px;line-height:35px;font-weight:bold;color:#000;transform:scaleX(0.9700);">22</div>
<div class="t" style="left:2809.80px;top:1535.20px;font-size:16.72px;line-height:20px;font-weight:normal;color:#000;transform:scaleX(0.9960);">VN 3-8 años kcal: 604,2 P: 37,71 L: 20,04 HC: 62,13</div>
<div class="t" style="left:2809.80px;top:1577.20px;font-size:16.72px;line-height:20px;font-weight:normal;color:#000;transform:scaleX(0.9960);">VN 9 a 13 años kcal: 791,44 P: 49,35 L: 26,31 HC: 81,36</div>
<div class="t c" style="left:2871.36px;top:1658.57px;width:337.14px;font-size:28.05px;line-height:34px;font-weight:bold;color:#000;transform:scaleX(0.8746);">ACELGAS CON PATATAS</div>
<div class="t c" style="left:2686.36px;top:1734.67px;width:707.08px;font-size:28.05px;line-height:34px;font-weight:bold;color:#000;transform:scaleX(0.8529);">CAELLA EN SALSA DE VERDURAS CON ENSALADA</div>
<div class="t c" style="left:2947.23px;top:1772.27px;width:185.47px;font-size:28.05px;line-height:34px;font-weight:bold;color:#000;transform:scaleX(0.8494);">DE LECHUGA</div>
<div class="t c" style="left:2882.22px;top:1825.93px;width:45.02px;font-size:27.03px;line-height:32px;color:#000;transform:scaleX(0.9450)">1<span style="margin-left:2.33px;margin-right:1.27px">º</span> -</div>
<div class="r" style="left:2899.86px;top:1844.40px;width:9.45px;height:1.70px;background:#000;"></div>
<div class="t c" style="left:3160.10px;top:1827.13px;width:111.16px;font-size:27.03px;line-height:32px;color:#000;transform:scaleX(0.9450)">2<span style="margin-left:2.33px;margin-right:1.27px">º</span> 4, 5, 6</div>
<div class="r" style="left:3179.57px;top:1845.40px;width:9.45px;height:1.70px;background:#000;"></div>
<div class="t c" style="left:2812.16px;top:1869.37px;width:455.60px;font-size:28.05px;line-height:34px;font-weight:bold;color:#000;transform:scaleX(0.8712);">FRUTA FRESCA Y PAN INTEGRAL</div>
<div class="r" style="left:173.50px;top:1928.70px;width:77.20px;height:111.00px;background:#fee599;"></div>
<div class="t c" style="left:205.30px;top:1966.27px;width:32.17px;font-size:28.92px;line-height:35px;font-weight:bold;color:#000;transform:scaleX(0.9700);">25</div>
<div class="t" style="left:255.60px;top:1947.70px;font-size:16.72px;line-height:20px;font-weight:normal;color:#000;transform:scaleX(0.9960);">VN 3-8 años kcal: 607,2 P: 31,42 L: 28,95 HC: 60,89</div>
<div class="t" style="left:255.60px;top:1989.70px;font-size:16.72px;line-height:20px;font-weight:normal;color:#000;transform:scaleX(0.9960);">VN 9 a 13 años kcal: 791,82 P: 38,18 L: 35,27 HC: 74,11</div>
<div class="t c" style="left:217.71px;top:2070.77px;width:536.15px;font-size:28.05px;line-height:34px;font-weight:bold;color:#000;transform:scaleX(0.8814);">PATATAS ESTOFADAS CON VERDURAS</div>
<div class="t c" style="left:204.11px;top:2146.87px;width:563.16px;font-size:28.05px;line-height:34px;font-weight:bold;color:#000;transform:scaleX(0.8820);">MERLUZA EN SALSA DE PIMIENTOS CON</div>
<div class="t c" style="left:311.69px;top:2184.47px;width:348.07px;font-size:28.05px;line-height:34px;font-weight:bold;color:#000;transform:scaleX(0.8554);">ENSALADA DE LECHUGA</div>
<div class="t c" style="left:328.02px;top:2238.13px;width:45.02px;font-size:27.03px;line-height:32px;color:#000;transform:scaleX(0.9450)">1<span style="margin-left:2.33px;margin-right:1.27px">º</span> -</div>
<div class="r" style="left:345.66px;top:2256.40px;width:9.45px;height:1.70px;background:#000;"></div>
<div class="t c" style="left:605.90px;top:2239.33px;width:111.16px;font-size:27.03px;line-height:32px;color:#000;transform:scaleX(0.9450)">2<span style="margin-left:2.33px;margin-right:1.27px">º</span> 4, 5, 6</div>
<div class="r" style="left:625.37px;top:2257.40px;width:9.45px;height:1.70px;background:#000;"></div>
<div class="t c" style="left:269.61px;top:2281.57px;width:432.22px;font-size:28.05px;line-height:34px;font-weight:bold;color:#000;transform:scaleX(0.8689);">FRUTA FRESCA Y PAN BLANCO</div>
<div class="r" style="left:811.80px;top:1928.70px;width:77.20px;height:111.00px;background:#f4b183;"></div>
<div class="t" style="left:833.20px;top:1966.27px;font-size:28.92px;line-height:35px;font-weight:bold;color:#000;transform:scaleX(0.9700);">26</div>
<div class="t" style="left:893.90px;top:1947.70px;font-size:16.72px;line-height:20px;font-weight:normal;color:#000;transform:scaleX(0.9960);">VN 3-8 años kcal: 583,68 P: 25,99 L: 12,19 HC: 89,94</div>
<div class="t" style="left:893.90px;top:1989.70px;font-size:16.72px;line-height:20px;font-weight:normal;color:#000;transform:scaleX(0.9960);">VN 9 a 13 años kcal: 786,59 P: 35,10 L: 16,42 HC: 121,14</div>
<div class="t c" style="left:827.58px;top:2070.77px;width:592.74px;font-size:28.05px;line-height:34px;font-weight:bold;color:#000;transform:scaleX(0.8749);">ARROZ INTEGRAL CON SALSA DE TOMATE</div>
<div class="t c" style="left:834.03px;top:2165.27px;width:579.79px;font-size:28.05px;line-height:34px;font-weight:bold;color:#000;transform:scaleX(0.8745);">ALBÓNDIGAS GUISADAS CON VERDURAS</div>
<div class="t c" style="left:966.32px;top:2238.13px;width:45.02px;font-size:27.03px;line-height:32px;color:#000;transform:scaleX(0.9450)">1<span style="margin-left:2.33px;margin-right:1.27px">º</span> -</div>
<div class="r" style="left:983.96px;top:2256.40px;width:9.45px;height:1.70px;background:#000;"></div>
<div class="t c" style="left:1266.77px;top:2239.33px;width:66.09px;font-size:27.03px;line-height:32px;color:#000;transform:scaleX(0.9450)">2<span style="margin-left:2.33px;margin-right:1.27px">º</span> 14</div>
<div class="r" style="left:1285.00px;top:2257.40px;width:9.45px;height:1.70px;background:#000;"></div>
<div class="t c" style="left:907.81px;top:2281.57px;width:432.22px;font-size:28.05px;line-height:34px;font-weight:bold;color:#000;transform:scaleX(0.8689);">FRUTA FRESCA Y PAN BLANCO</div>
<div class="r" style="left:1450.60px;top:1928.70px;width:77.20px;height:111.00px;background:#c5e0b4;"></div>
<div class="t" style="left:1472.00px;top:1966.27px;font-size:28.92px;line-height:35px;font-weight:bold;color:#000;transform:scaleX(0.9700);">27</div>
<div class="t" style="left:1532.70px;top:1947.70px;font-size:16.72px;line-height:20px;font-weight:normal;color:#000;transform:scaleX(0.9960);">VN 3-8 años kcal: 600 P: 30,6 L: 18,6 HC: 74,7</div>
<div class="t" style="left:1532.70px;top:1989.70px;font-size:16.72px;line-height:20px;font-weight:normal;color:#000;transform:scaleX(0.9960);">VN 9 a 13 años kcal: 775 P: 39,4 L: 24,1 HC: 96,4</div>
<div class="t c" style="left:1514.02px;top:2070.77px;width:497.73px;font-size:28.05px;line-height:34px;font-weight:bold;color:#000;transform:scaleX(0.8671);">ESPAGUETIS EN SALSA DE TOMATE</div>
<div class="t c" style="left:1473.21px;top:2146.87px;width:579.23px;font-size:28.05px;line-height:34px;font-weight:bold;color:#000;transform:scaleX(0.8623);">TORTILLA FRANCESA CON ENSALADA DE</div>
<div class="t c" style="left:1593.27px;top:2184.47px;width:339.24px;font-size:28.05px;line-height:34px;font-weight:bold;color:#000;transform:scaleX(0.8816);">LECHUGA Y ZANAHORIA</div>
<div class="t c" style="left:1587.01px;top:2238.13px;width:81.11px;font-size:27.03px;line-height:32px;color:#000;transform:scaleX(0.9450)">1<span style="margin-left:2.33px;margin-right:1.27px">º</span> 1, 3</div>
<div class="r" style="left:1605.65px;top:2256.40px;width:9.45px;height:1.70px;background:#000;"></div>
<div class="t c" style="left:1913.01px;top:2239.33px;width:51.05px;font-size:27.03px;line-height:32px;color:#000;transform:scaleX(0.9450)">2<span style="margin-left:2.33px;margin-right:1.27px">º</span> 3</div>
<div class="r" style="left:1930.82px;top:2257.40px;width:9.45px;height:1.70px;background:#000;"></div>
<div class="t c" style="left:1546.71px;top:2281.57px;width:432.22px;font-size:28.05px;line-height:34px;font-weight:bold;color:#000;transform:scaleX(0.8689);">FRUTA FRESCA Y PAN BLANCO</div>
<div class="r" style="left:2088.90px;top:1928.70px;width:77.20px;height:111.00px;background:#fee599;"></div>
<div class="t" style="left:2110.30px;top:1966.27px;font-size:28.92px;line-height:35px;font-weight:bold;color:#000;transform:scaleX(0.9700);">28</div>
<div class="t" style="left:2171.00px;top:1947.70px;font-size:16.72px;line-height:20px;font-weight:normal;color:#000;transform:scaleX(0.9960);">VN 3-8 años kcal: 604,35 P: 30,77 L: 24,65 HC: 60,35</div>
<div class="t" style="left:2171.00px;top:1989.70px;font-size:16.72px;line-height:20px;font-weight:normal;color:#000;transform:scaleX(0.9960);">VN 9 a 13 años kcal: 761,94 P: 38,76 L: 31,04 HC: 76,02</div>
<div class="t c" style="left:2156.43px;top:2070.77px;width:489.32px;font-size:28.05px;line-height:34px;font-weight:bold;color:#000;transform:scaleX(0.8830);">BRÓCOLI SALTEADO CON PATATAS</div>
<div class="t c" style="left:2119.26px;top:2146.87px;width:563.67px;font-size:28.05px;line-height:34px;font-weight:bold;color:#000;transform:scaleX(0.8872);">JAMONCITOS DE POLLO AL HORNO CON</div>
<div class="t c" style="left:2176.63px;top:2184.47px;width:448.87px;font-size:28.05px;line-height:34px;font-weight:bold;color:#000;transform:scaleX(0.8765);">ENSALADA DE LECHUGA Y MAÍZ</div>
<div class="t c" style="left:2243.42px;top:2238.13px;width:45.02px;font-size:27.03px;line-height:32px;color:#000;transform:scaleX(0.9450)">1<span style="margin-left:2.33px;margin-right:1.27px">º</span> -</div>
<div class="r" style="left:2261.06px;top:2256.40px;width:9.45px;height:1.70px;background:#000;"></div>
<div class="t c" style="left:2554.42px;top:2239.33px;width:45.02px;font-size:27.03px;line-height:32px;color:#000;transform:scaleX(0.9450)">2<span style="margin-left:2.33px;margin-right:1.27px">º</span> -</div>
<div class="r" style="left:2572.06px;top:2257.40px;width:9.45px;height:1.70px;background:#000;"></div>
<div class="t c" style="left:2170.17px;top:2281.57px;width:461.85px;font-size:28.05px;line-height:34px;font-weight:bold;color:#000;transform:scaleX(0.8884);">YOGUR NATURAL Y PAN BLANCO</div>
<div class="r" style="left:2727.70px;top:1928.70px;width:77.20px;height:111.00px;background:#9fcfad;"></div>
<div class="t" style="left:2749.10px;top:1966.27px;font-size:28.92px;line-height:35px;font-weight:bold;color:#000;transform:scaleX(0.9700);">29</div>
<div class="t" style="left:2809.80px;top:1947.70px;font-size:16.72px;line-height:20px;font-weight:normal;color:#000;transform:scaleX(0.9960);">VN 3-8 años kcal: 591,1 P: 18,28 L: 17,25 HC: 83,14</div>
<div class="t" style="left:2809.80px;top:1989.70px;font-size:16.72px;line-height:20px;font-weight:normal;color:#000;transform:scaleX(0.9960);">VN 9 a 13 años kcal: 743,68 P: 23,07 L: 21,61 HC: 104,49</div>
<div class="t c" style="left:2883.00px;top:2070.77px;width:313.80px;font-size:28.05px;line-height:34px;font-weight:bold;color:#000;transform:scaleX(0.8732);">CREMA DE VERDURAS</div>
<div class="t c" style="left:2772.34px;top:2165.27px;width:535.11px;font-size:28.05px;line-height:34px;font-weight:bold;color:#000;transform:scaleX(0.8731);">ALUBIAS CON VERDURAS Y CALAMAR</div>
<div class="t c" style="left:2882.22px;top:2238.13px;width:45.02px;font-size:27.03px;line-height:32px;color:#000;transform:scaleX(0.9450)">1<span style="margin-left:2.33px;margin-right:1.27px">º</span> -</div>
<div class="r" style="left:2899.86px;top:2256.40px;width:9.45px;height:1.70px;background:#000;"></div>
<div class="t c" style="left:3160.10px;top:2239.33px;width:111.16px;font-size:27.03px;line-height:32px;color:#000;transform:scaleX(0.9450)">2<span style="margin-left:2.33px;margin-right:1.27px">º</span> 4, 5, 6</div>
<div class="r" style="left:3179.57px;top:2257.40px;width:9.45px;height:1.70px;background:#000;"></div>
<div class="t c" style="left:2812.16px;top:2281.57px;width:455.60px;font-size:28.05px;line-height:34px;font-weight:bold;color:#000;transform:scaleX(0.8712);">FRUTA FRESCA Y PAN INTEGRAL</div>
<svg class="r" style="left:2800px;top:100px" width="480" height="100" viewBox="2800 100 480 100"><path d="M2856,132.8 H2831 C2823.5,132.8 2821.8,136.5 2821.8,140 C2821.8,145 2826.5,146.2 2838,146.6 C2850.5,147 2855.2,150 2855.2,154 C2855.2,158.3 2851.5,160.3 2845,160.3 H2820 M2867.5,147.3 H2905.2 A18.6,13.3 0 1 0 2901.5,156.5 M2922.7,164 V146 A12.5,12.5 0 0 1 2935.2,133.5 H2946 M2958.2,130 V147.5 A12,12 0 0 0 2970.2,159.5 H2988.1 M2988.1,130 V164 M3007.6,164 V133.8 H3026 A12,12 0 0 1 3038,145.8 V164 M3058.7,130 V164 M3129.9,164 V133.8 H3150.2 A12,12 0 0 1 3162.2,145.8 V164" fill="none" stroke="#54575d" stroke-width="7.6"/><ellipse cx="3094.75" cy="147" rx="19.6" ry="13.4" fill="none" stroke="#54575d" stroke-width="8.2"/><circle cx="3058.4" cy="122" r="5.2" fill="#54575d"/><path d="M3209.00,118.50 L3211.38,118.67 L3213.68,118.81 L3215.90,119.01 L3218.06,119.28 L3220.15,119.61 L3222.18,120.02 L3224.14,120.49 L3226.02,121.02 L3227.84,121.60 L3229.59,122.24 L3231.26,122.93 L3232.87,123.66 L3234.40,124.44 L3235.85,125.25 L3237.24,126.09 L3238.55,126.97 L3239.78,127.87 L3240.94,128.80 L3242.03,129.74 L3243.04,130.71 L3243.98,131.70 L3244.85,132.70 L3245.64,133.72 L3246.37,134.75 L3247.03,135.81 L3247.62,136.89 L3248.14,137.99 L3248.60,139.13 L3248.98,140.30 L3249.28,141.52 L3249.50,142.79 L3249.63,144.11 L3249.67,145.49 L3249.59,146.93 L3249.40,148.44 L3249.08,150.01 L3248.63,151.64 L3248.03,153.34 L3247.30,155.11 L3246.50,157.00 L3246.50,157.00 L3248.17,155.74 L3249.60,154.34 L3250.88,152.87 L3252.00,151.33 L3252.97,149.74 L3253.79,148.10 L3254.45,146.42 L3254.96,144.70 L3255.30,142.95 L3255.49,141.18 L3255.50,139.41 L3255.36,137.64 L3255.05,135.88 L3254.58,134.16 L3253.97,132.47 L3253.20,130.83 L3252.30,129.25 L3251.27,127.73 L3250.11,126.28 L3248.84,124.91 L3247.45,123.62 L3245.97,122.42 L3244.39,121.31 L3242.72,120.29 L3240.97,119.36 L3239.14,118.53 L3237.25,117.81 L3235.29,117.18 L3233.27,116.66 L3231.21,116.24 L3229.10,115.93 L3226.94,115.74 L3224.76,115.65 L3222.54,115.67 L3220.31,115.81 L3218.05,116.07 L3215.78,116.45 L3213.51,116.96 L3211.24,117.61 L3209.00,118.50 Z M3211.00,124.50 L3208.46,124.46 L3205.99,124.70 L3203.60,125.12 L3201.28,125.71 L3199.04,126.45 L3196.90,127.33 L3194.84,128.36 L3192.89,129.52 L3191.04,130.80 L3189.31,132.21 L3187.69,133.72 L3186.21,135.34 L3184.85,137.05 L3183.64,138.85 L3182.57,140.72 L3181.65,142.66 L3180.88,144.65 L3180.27,146.70 L3179.82,148.77 L3179.54,150.87 L3179.43,152.98 L3179.49,155.09 L3179.73,157.19 L3180.14,159.27 L3180.72,161.30 L3181.48,163.28 L3182.41,165.20 L3183.51,167.04 L3184.78,168.79 L3186.20,170.43 L3187.77,171.97 L3189.49,173.39 L3191.36,174.68 L3193.35,175.84 L3195.48,176.85 L3197.74,177.72 L3200.12,178.44 L3202.62,179.01 L3205.24,179.39 L3208.00,179.50 L3208.00,179.50 L3205.52,178.36 L3203.21,177.24 L3201.09,176.08 L3199.15,174.85 L3197.40,173.57 L3195.81,172.24 L3194.40,170.87 L3193.15,169.47 L3192.04,168.04 L3191.08,166.60 L3190.26,165.14 L3189.56,163.67 L3188.97,162.19 L3188.50,160.70 L3188.13,159.20 L3187.86,157.70 L3187.69,156.19 L3187.60,154.68 L3187.61,153.16 L3187.71,151.63 L3187.89,150.10 L3188.17,148.56 L3188.54,147.03 L3188.99,145.49 L3189.55,143.96 L3190.19,142.44 L3190.94,140.93 L3191.78,139.44 L3192.73,137.96 L3193.79,136.51 L3194.95,135.09 L3196.23,133.71 L3197.63,132.36 L3199.15,131.06 L3200.80,129.82 L3202.57,128.64 L3204.48,127.53 L3206.52,126.48 L3208.70,125.50 L3211.00,124.50 Z M3192.00,180.50 L3193.35,182.03 L3194.87,183.39 L3196.50,184.66 L3198.23,185.84 L3200.05,186.92 L3201.94,187.92 L3203.90,188.81 L3205.92,189.61 L3207.99,190.31 L3210.10,190.91 L3212.25,191.41 L3214.43,191.80 L3216.64,192.08 L3218.86,192.25 L3221.09,192.31 L3223.31,192.26 L3225.54,192.09 L3227.75,191.81 L3229.94,191.40 L3232.09,190.88 L3234.22,190.24 L3236.29,189.48 L3238.32,188.59 L3240.28,187.59 L3242.16,186.46 L3243.97,185.21 L3245.69,183.84 L3247.31,182.36 L3248.81,180.76 L3250.21,179.06 L3251.47,177.25 L3252.60,175.33 L3253.59,173.33 L3254.44,171.23 L3255.13,169.05 L3255.66,166.79 L3256.04,164.45 L3256.24,162.04 L3256.26,159.55 L3256.00,157.00 L3256.00,157.00 L3255.30,159.44 L3254.59,161.73 L3253.80,163.88 L3252.91,165.89 L3251.95,167.77 L3250.90,169.51 L3249.77,171.14 L3248.58,172.64 L3247.33,174.04 L3246.01,175.33 L3244.64,176.53 L3243.22,177.64 L3241.75,178.66 L3240.22,179.60 L3238.65,180.47 L3237.04,181.26 L3235.38,181.98 L3233.67,182.64 L3231.93,183.22 L3230.16,183.74 L3228.34,184.20 L3226.50,184.59 L3224.63,184.91 L3222.73,185.17 L3220.82,185.37 L3218.88,185.50 L3216.94,185.57 L3214.98,185.57 L3213.02,185.51 L3211.06,185.39 L3209.09,185.19 L3207.14,184.93 L3205.19,184.60 L3203.26,184.21 L3201.35,183.75 L3199.45,183.21 L3197.57,182.61 L3195.72,181.95 L3193.88,181.22 L3192.00,180.50 Z M3232.00,131.50 L3229.77,130.68 L3227.54,130.13 L3225.33,129.75 L3223.17,129.53 L3221.04,129.46 L3218.95,129.55 L3216.92,129.78 L3214.94,130.14 L3213.02,130.65 L3211.17,131.28 L3209.40,132.04 L3207.71,132.93 L3206.11,133.92 L3204.61,135.02 L3203.21,136.23 L3201.92,137.52 L3200.74,138.90 L3199.68,140.36 L3198.75,141.88 L3197.95,143.46 L3197.28,145.08 L3196.75,146.75 L3196.36,148.44 L3196.12,150.15 L3196.02,151.87 L3196.07,153.58 L3196.27,155.27 L3196.63,156.94 L3197.13,158.56 L3197.78,160.13 L3198.58,161.63 L3199.52,163.06 L3200.59,164.40 L3201.79,165.63 L3203.12,166.77 L3204.57,167.79 L3206.13,168.69 L3207.80,169.46 L3209.58,170.10 L3211.50,170.50 L3211.50,170.50 L3210.03,169.24 L3208.70,168.05 L3207.52,166.84 L3206.49,165.63 L3205.60,164.40 L3204.86,163.17 L3204.24,161.94 L3203.75,160.71 L3203.36,159.49 L3203.08,158.28 L3202.89,157.07 L3202.78,155.87 L3202.76,154.68 L3202.82,153.50 L3202.95,152.32 L3203.15,151.15 L3203.43,149.99 L3203.78,148.83 L3204.19,147.68 L3204.68,146.54 L3205.23,145.42 L3205.86,144.30 L3206.56,143.21 L3207.33,142.13 L3208.18,141.08 L3209.11,140.06 L3210.12,139.06 L3211.21,138.10 L3212.39,137.18 L3213.66,136.31 L3215.02,135.49 L3216.48,134.73 L3218.04,134.03 L3219.70,133.41 L3221.47,132.87 L3223.35,132.42 L3225.34,132.06 L3227.44,131.80 L3229.65,131.64 L3232.00,131.50 Z M3212.50,162.50 L3212.80,163.79 L3213.25,164.99 L3213.79,166.12 L3214.40,167.19 L3215.08,168.21 L3215.82,169.16 L3216.62,170.05 L3217.48,170.87 L3218.38,171.63 L3219.34,172.31 L3220.33,172.92 L3221.36,173.46 L3222.42,173.91 L3223.50,174.29 L3224.60,174.59 L3225.72,174.81 L3226.84,174.95 L3227.97,175.01 L3229.09,175.00 L3230.21,174.90 L3231.31,174.73 L3232.39,174.48 L3233.45,174.16 L3234.48,173.77 L3235.47,173.31 L3236.42,172.78 L3237.33,172.19 L3238.19,171.53 L3239.00,170.83 L3239.75,170.06 L3240.43,169.25 L3241.05,168.39 L3241.60,167.49 L3242.07,166.56 L3242.46,165.60 L3242.77,164.61 L3243.00,163.60 L3243.13,162.58 L3243.16,161.55 L3243.00,160.50 L3243.00,160.50 L3242.33,161.29 L3241.74,162.04 L3241.13,162.73 L3240.52,163.36 L3239.89,163.94 L3239.25,164.47 L3238.60,164.96 L3237.93,165.41 L3237.26,165.82 L3236.58,166.19 L3235.89,166.53 L3235.20,166.84 L3234.50,167.11 L3233.79,167.37 L3233.08,167.59 L3232.36,167.79 L3231.63,167.97 L3230.90,168.12 L3230.16,168.25 L3229.42,168.35 L3228.66,168.43 L3227.91,168.48 L3227.14,168.51 L3226.37,168.51 L3225.59,168.48 L3224.80,168.42 L3223.99,168.32 L3223.18,168.19 L3222.36,168.02 L3221.52,167.81 L3220.68,167.56 L3219.82,167.25 L3218.95,166.88 L3218.07,166.46 L3217.17,165.97 L3216.27,165.42 L3215.37,164.79 L3214.45,164.09 L3213.52,163.31 L3212.50,162.50 Z M3230.00,136.50 L3231.08,137.11 L3232.08,137.71 L3233.00,138.34 L3233.82,139.01 L3234.57,139.72 L3235.23,140.44 L3235.81,141.19 L3236.32,141.96 L3236.75,142.74 L3237.11,143.53 L3237.41,144.33 L3237.64,145.13 L3237.80,145.93 L3237.90,146.72 L3237.94,147.50 L3237.93,148.26 L3237.86,149.01 L3237.73,149.74 L3237.55,150.45 L3237.33,151.13 L3237.05,151.78 L3236.73,152.40 L3236.37,152.99 L3235.96,153.54 L3235.51,154.05 L3235.01,154.53 L3234.48,154.98 L3233.89,155.38 L3233.25,155.75 L3232.57,156.08 L3231.82,156.37 L3231.01,156.62 L3230.13,156.81 L3229.18,156.95 L3228.15,157.03 L3227.05,157.05 L3225.86,156.99 L3224.59,156.85 L3223.24,156.62 L3221.77,156.29 L3221.67,156.25 L3221.40,156.17 L3221.14,156.08 L3220.89,155.99 L3220.64,155.89 L3220.40,155.80 L3220.16,155.70 L3219.93,155.60 L3219.70,155.50 L3219.48,155.39 L3219.25,155.29 L3219.03,155.17 L3218.82,155.06 L3218.60,154.94 L3218.38,154.82 L3218.17,154.69 L3217.95,154.56 L3217.74,154.42 L3217.53,154.27 L3217.31,154.12 L3217.10,153.97 L3216.89,153.80 L3216.67,153.63 L3216.46,153.45 L3216.25,153.27 L3216.04,153.07 L3215.82,152.87 L3215.61,152.66 L3215.40,152.44 L3215.19,152.22 L3214.98,151.98 L3214.77,151.74 L3214.57,151.49 L3214.36,151.23 L3214.15,150.96 L3213.94,150.68 L3213.73,150.40 L3213.52,150.10 L3213.29,149.80 L3213.00,149.50 L3213.00,149.50 L3212.80,149.87 L3212.66,150.24 L3212.56,150.61 L3212.48,150.98 L3212.41,151.36 L3212.36,151.74 L3212.33,152.12 L3212.31,152.51 L3212.31,152.90 L3212.32,153.28 L3212.35,153.67 L3212.39,154.06 L3212.45,154.45 L3212.53,154.84 L3212.62,155.22 L3212.72,155.61 L3212.85,155.99 L3212.98,156.37 L3213.14,156.75 L3213.31,157.13 L3213.50,157.49 L3213.71,157.86 L3213.93,158.22 L3214.17,158.57 L3214.42,158.91 L3214.70,159.24 L3214.98,159.57 L3215.29,159.88 L3215.61,160.19 L3215.94,160.48 L3216.30,160.76 L3216.66,161.03 L3217.04,161.29 L3217.43,161.53 L3217.84,161.76 L3218.26,161.97 L3218.69,162.17 L3219.13,162.35 L3219.59,162.51 L3220.23,162.71 L3221.99,163.10 L3223.72,163.37 L3225.40,163.53 L3227.01,163.58 L3228.57,163.52 L3230.06,163.35 L3231.48,163.07 L3232.83,162.69 L3234.11,162.21 L3235.31,161.64 L3236.42,160.98 L3237.45,160.23 L3238.38,159.42 L3239.22,158.54 L3239.96,157.60 L3240.60,156.62 L3241.14,155.59 L3241.58,154.54 L3241.93,153.46 L3242.17,152.37 L3242.33,151.27 L3242.38,150.17 L3242.35,149.07 L3242.23,147.98 L3242.03,146.91 L3241.73,145.86 L3241.36,144.84 L3240.90,143.85 L3240.37,142.90 L3239.76,142.00 L3239.08,141.14 L3238.32,140.33 L3237.50,139.59 L3236.61,138.91 L3235.65,138.30 L3234.64,137.76 L3233.56,137.30 L3232.43,136.92 L3231.25,136.64 L3230.00,136.50 Z" fill="#d9123f"/></svg>
<svg class="r" style="left:3070px;top:160px" width="110" height="40" viewBox="3070 160 110 40"><path d="M3088.5,183 C3092,175.5 3101.5,174 3101.8,177.8 C3102,181.5 3093,183.2 3088.5,183 C3087,188.5 3089,191.2 3092.2,191.2 C3094.5,191.2 3096.2,190 3097.8,188.3 M3116.8,165.5 V190.5 M3116,180.5 C3110,176.5 3106.8,183 3107.3,186.2 C3107.8,190.3 3113,190.8 3116.2,188 M3123,179 C3123,187 3124,191.2 3128,191.2 C3131.2,191.2 3132.6,188 3132.8,179 V190.8 M3148.5,177.5 C3143,175.2 3139,179 3139.4,184 C3139.8,190 3145,191.8 3149,190.5 M3155,173.5 C3158,168.8 3166,169.5 3165.8,177 V190.8 M3165.5,182.5 C3160,180.8 3153,182 3153.4,186.5 C3153.8,191.2 3161,191.2 3165.5,188.5" fill="none" stroke="#f5ab17" stroke-width="3.3" stroke-linecap="round" stroke-linejoin="round"/></svg>
</body></html>
